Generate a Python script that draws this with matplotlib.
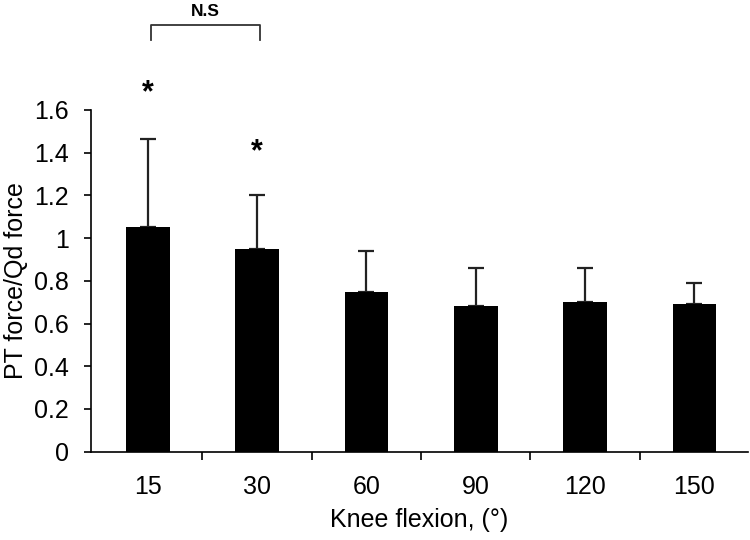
import numpy as np
import matplotlib.pyplot as plt

plt.rcParams['font.family'] = ['Liberation Sans', 'DejaVu Sans']

angles = ['15', '30', '60', '90', '120', '150']
ratio = [1.05, 0.95, 0.75, 0.68, 0.70, 0.69]
sd = [0.415, 0.25, 0.19, 0.18, 0.16, 0.10]

x = np.arange(len(angles))

fig = plt.figure(figsize=(7.5, 5.4), dpi=100)
ax = fig.add_axes([0.1213, 0.1635, 0.876, 0.6328])

ax.bar(x, ratio, width=0.4, color='black', zorder=2)
ax.errorbar(x, ratio, yerr=[np.zeros(len(sd)), sd], fmt='none', ecolor='#222222',
            elinewidth=1.6, capsize=6, capthick=1.6, zorder=1)

ax.set_xlim(-0.52, 5.49)
ax.set_ylim(0, 1.6)
ax.set_yticks(np.arange(0, 1.61, 0.2))
ax.set_yticklabels(['0', '0.2', '0.4', '0.6', '0.8', '1', '1.2', '1.4', '1.6'])
ax.set_xticks(x)
ax.set_xticklabels(angles)
ax.set_xticks(x[:-1] + 0.5, minor=True)
ax.tick_params(axis='x', which='major', length=0, pad=17, labelsize=18)
ax.tick_params(axis='x', which='minor', length=6, width=1.2, direction='out')
ax.tick_params(axis='y', length=5, width=1.2, direction='out', labelsize=18, pad=11)

for s in ['top', 'right']:
    ax.spines[s].set_visible(False)
for s in ['left', 'bottom']:
    ax.spines[s].set_linewidth(1.2)

ax.set_xlabel('Knee flexion, (°)', fontsize=18, labelpad=6)
ax.set_ylabel('PT force/Qd force', fontsize=18, labelpad=4)

# significance marks
ax.text(0, 1.68, '*', ha='center', va='center', fontsize=22, fontweight='bold', clip_on=False)
ax.text(1, 1.40, '*', ha='center', va='center', fontsize=22, fontweight='bold', clip_on=False)
ax.plot([0.03, 0.03, 1.03, 1.03], [1.93, 2.0, 2.0, 1.93], color='#333333', lw=1.3, clip_on=False)
ax.text(0.53, 2.025, 'N.S', ha='center', va='bottom', fontsize=12.5, fontweight='bold', clip_on=False)

fig.savefig('out.png', dpi=100)
